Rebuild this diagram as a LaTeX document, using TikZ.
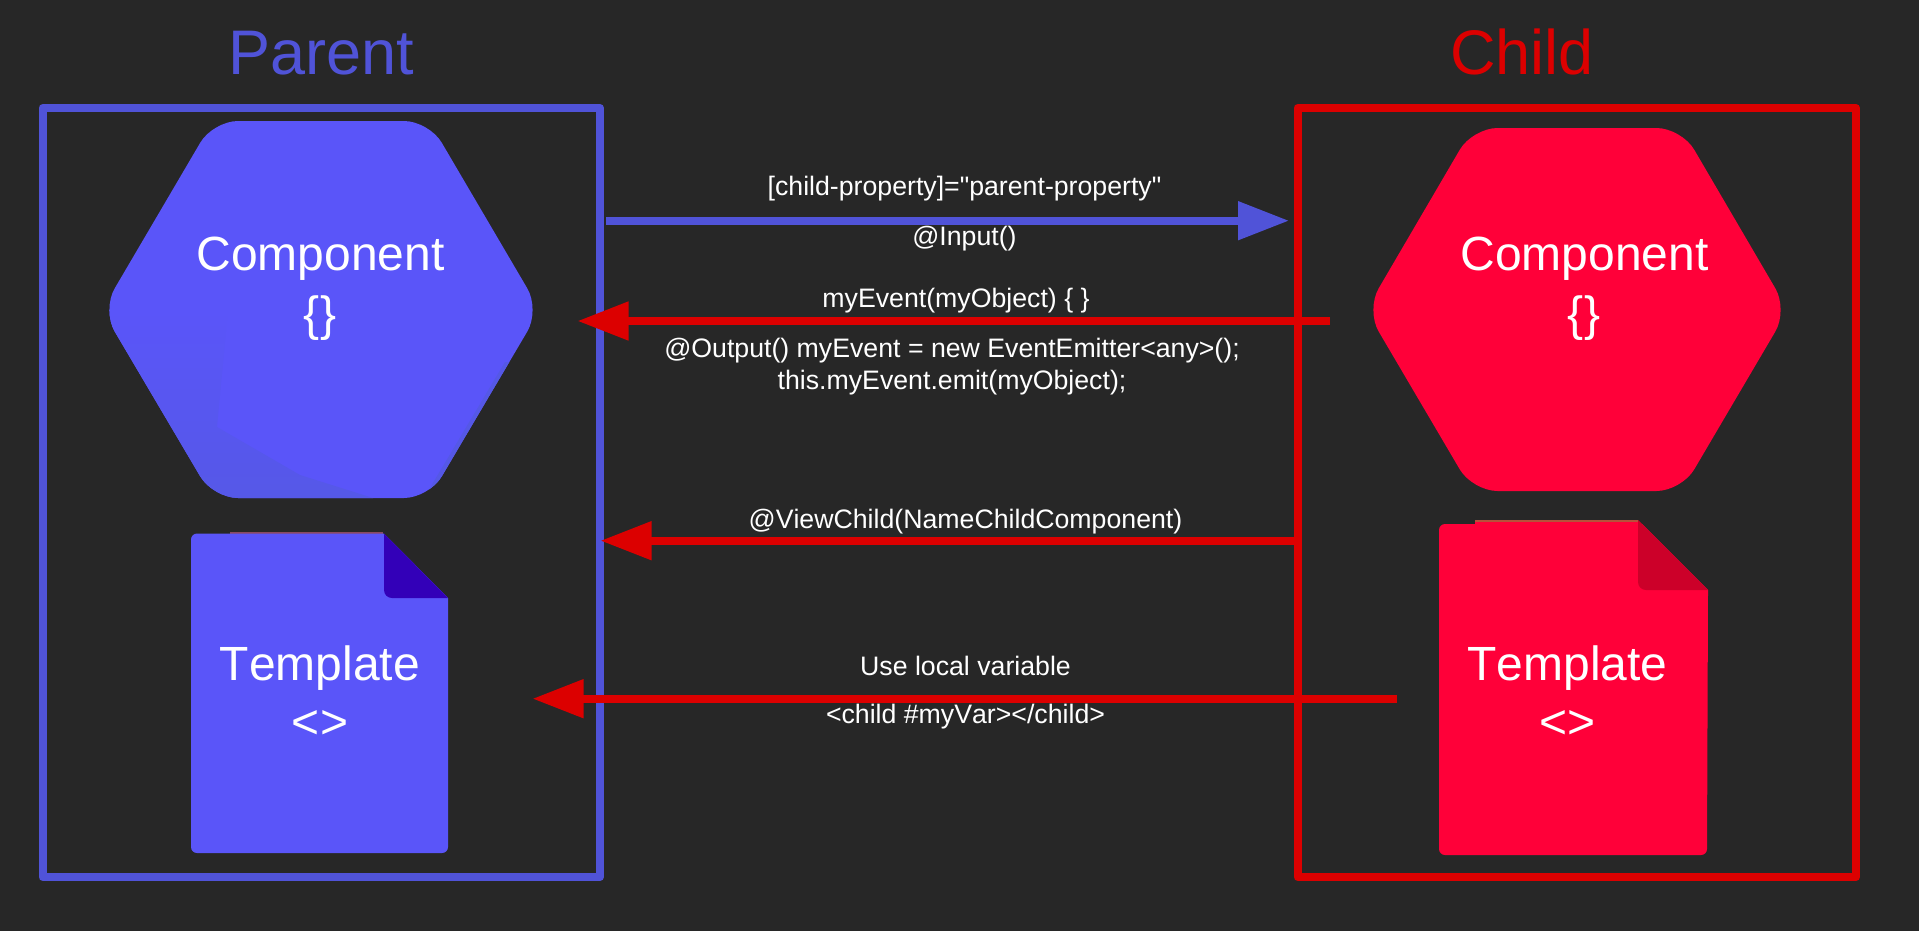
\documentclass[tikz,border=0pt]{standalone}
\usepackage{fontspec}
\newfontfamily\arialfont[Kerning=Off]{Liberation Sans}
\usetikzlibrary{arrows.meta}
\definecolor{bgdark}{HTML}{272727}
\definecolor{parentline}{HTML}{5053D8}
\definecolor{parentfill}{HTML}{5A55F9}
\definecolor{parentfold}{HTML}{3300B8}
\definecolor{parentshade}{HTML}{5558E6}
\definecolor{parentseam}{HTML}{8A4A62}
\definecolor{childline}{HTML}{DC0000}
\definecolor{childfill}{HTML}{FF0039}
\definecolor{childfold}{HTML}{CC0029}
\definecolor{childseam}{HTML}{B8503A}
\tikzset{
	x=1pt, y=-1pt,
	frame/.style = {line width=8pt, line join=round},
	link/.style = {line width=8pt, -{Triangle[length=51pt,width=37pt]}},
	hexa/.style = {rounded corners=25pt},
	title/.style = {anchor=base, inner sep=0pt, font=\arialfont\fontsize{63}{70}\selectfont},
	big/.style = {anchor=base, inner sep=0pt, text=white, font=\arialfont\fontsize{48}{54}\selectfont},
	small/.style = {anchor=base, inner sep=0pt, text=white, font=\arialfont\fontsize{26.7}{30}\selectfont}
}

\begin{document}
\begin{tikzpicture}
	\useasboundingbox (0,0) rectangle (1919,930);
	\fill[bgdark] (-5,-5) rectangle (1925,935);

	\node (parent) [title, text=parentline] at (321,74) {Parent};
	\node (child) [title, text=childline] at (1522,74) {Child};
	\draw[frame, parentline] (42.5,108) rectangle (600,877);
	\draw[frame, childline] (1297.5,108) rectangle (1856,877);

	% parent component
	\fill[hexa, parentfill] (102,310) -- (213,121) -- (429,121) -- (540,310) -- (429,498) -- (213,498) -- cycle;
	\begin{scope}
		\clip[hexa] (102,310) -- (213,121) -- (429,121) -- (540,310) -- (429,498) -- (213,498) -- cycle;
		\shade[top color=parentfill, bottom color=parentshade] (228,310) -- (217,427) -- (300,475) -- (373,498) -- (373,510) -- (90,510) -- (90,310) -- cycle;
		\fill[parentshade] (424,498) -- (505,362) -- (545,362) -- (545,510) -- (424,510) -- cycle;
	\end{scope}
	\node (pcomp) [big] at (320.5,270.5) {Component};
	\node (pbrace) [big] at (320,330) {\{\}};

	% parent template
	\fill[parentseam] (230,531.5) rectangle (383,535);
	\fill[parentfill] (384,533.5) -- (448,598) [rounded corners=6pt] -- (448,853) -- (191,853) -- (191,533.5) [sharp corners] -- cycle;
	\fill[parentfold] (384,533.5) [rounded corners=8pt] -- (384,598) [sharp corners] -- (448,598) -- cycle;
	\node (ptmpl) [big] at (320,680) {Template};
	\node (ptag) [big] at (320,738) {<>};

	% child component
	\fill[hexa, childfill] (1366,310) -- (1472.5,128) -- (1681.5,128) -- (1788,310) -- (1681.5,491) -- (1472.5,491) -- cycle;
	\node (ccomp) [big] at (1584.5,270.5) {Component};
	\node (cbrace) [big] at (1584,330) {\{\}};

	% child template
	\fill[childseam] (1475,520) rectangle (1638,525);
	\fill[childfill] (1475,522) rectangle (1640,525);
	\fill[childfill] (1642,524) -- (1708,590) [rounded corners=6pt] -- (1707,855) -- (1439,855) -- (1439,524) [sharp corners] -- cycle;
	\fill[childfold] (1638,520) [rounded corners=8pt] -- (1638,590) [sharp corners] -- (1708,590) -- cycle;
	\node (ctmpl) [big] at (1567.5,680) {Template};
	\node (ctag) [big] at (1567.5,738) {<>};

	% connectors
	\coordinate (inA) at (606,220.7);
	\coordinate (inB) at (1289,220.7);
	\coordinate (outA) at (1330,321);
	\coordinate (outB) at (577.5,321);
	\coordinate (viewA) at (1297,540.7);
	\coordinate (viewB) at (600.5,540.7);
	\coordinate (varA) at (1397,698.7);
	\coordinate (varB) at (532.5,698.7);
	\draw[link, parentline] (inA) -- (inB);
	\draw[link, childline] (outA) -- (outB);
	\draw[link, childline] (viewA) -- (viewB);
	\draw[link, childline] (varA) -- (varB);

	\node (inprop) [small] at (964.5,195) {[child-property]="parent-property"};
	\node (indec) [small] at (964.5,245) {@Input()};
	\node (outcall) [small] at (956,307) {myEvent(myObject) \{ \}};
	\node (outdec) [small] at (952,357) {@Output() myEvent = new EventEmitter<any>();};
	\node (outemit) [small] at (952,389) {this.myEvent.emit(myObject);};
	\node (viewdec) [small] at (965.5,528) {@ViewChild(NameChildComponent)};
	\node (varuse) [small] at (965.5,675) {Use local variable};
	\node (vartag) [small] at (965.5,723) {<child \#myVar></child>};
\end{tikzpicture}
\end{document}
